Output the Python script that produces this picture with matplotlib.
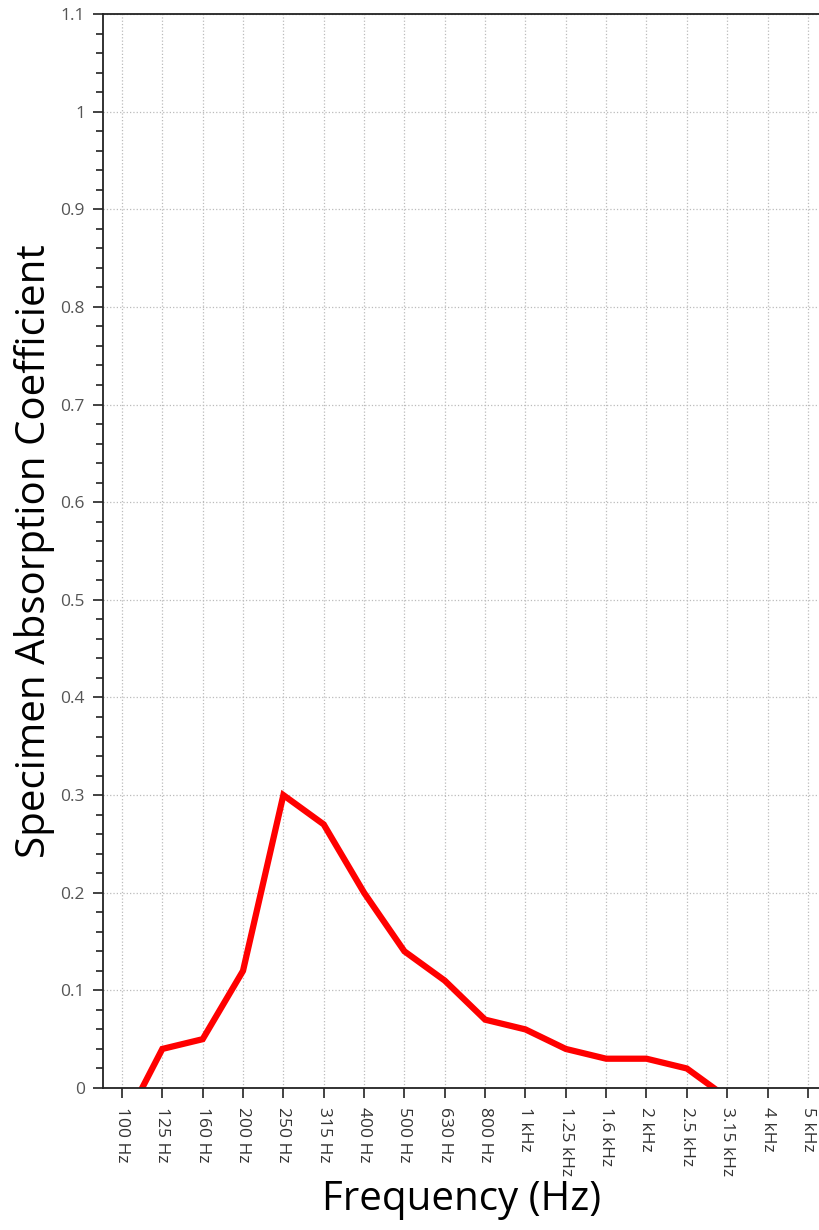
import matplotlib
matplotlib.use('Agg')
import matplotlib.pyplot as plt
from matplotlib.ticker import MultipleLocator

# frequency bands (1/3 octave) and measured absorption
bands = ['100 Hz', '125 Hz', '160 Hz', '200 Hz', '250 Hz', '315 Hz', '400 Hz',
         '500 Hz', '630 Hz', '800 Hz', '1 kHz', '1.25 kHz', '1.6 kHz', '2 kHz',
         '2.5 kHz', '3.15 kHz', '4 kHz', '5 kHz']
absorption = [-0.04, 0.04, 0.05, 0.12, 0.30, 0.27, 0.20, 0.14, 0.11, 0.07,
              0.06, 0.04, 0.03, 0.03, 0.02, -0.01, -0.02, -0.02]
yticklabels = ['0', '0.1', '0.2', '0.3', '0.4', '0.5', '0.6', '0.7', '0.8',
               '0.9', '1', '1.1']

plt.rcParams['font.family'] = ['Open Sans', 'DejaVu Sans']

fig = plt.figure(figsize=(8.2, 12.3), dpi=100)
ax = fig.add_axes([103 / 820, 1 - 1088 / 1230, 1 - 103 / 820, (1088 - 14) / 1230])

x = list(range(len(bands)))
ax.plot(x, absorption, color='#ff0000', linewidth=4.5, solid_joinstyle='miter')

ax.set_xlim(-0.47, 17.3)
ax.set_ylim(0, 1.1)
ax.set_xticks(x)
ax.set_xticklabels(bands, rotation=270, fontsize=12.5, color='#333333')
ax.yaxis.set_minor_locator(MultipleLocator(0.02))
ax.set_yticks([i / 10 for i in range(12)])
ax.set_yticklabels(yticklabels, fontsize=12.5, color='#555555')

ax.tick_params(axis='both', which='major', length=7, width=1.2, color='#222222')
ax.tick_params(axis='y', which='minor', length=5, width=1.2, color='#222222')
ax.tick_params(axis='x', pad=7)
ax.tick_params(axis='y', pad=6)

ax.grid(True, which='major', linestyle=':', color='#bbbbbb', linewidth=0.9)
ax.set_axisbelow(True)
ax.spines['right'].set_visible(False)
for s in ['left', 'bottom', 'top']:
    ax.spines[s].set_linewidth(1.3)
    ax.spines[s].set_color('#222222')

ax.set_xlabel('Frequency (Hz)', fontsize=29, labelpad=2)
ax.set_ylabel('Specimen Absorption Coefficient', fontsize=29, labelpad=4)

plt.savefig('out.png', dpi=100)
